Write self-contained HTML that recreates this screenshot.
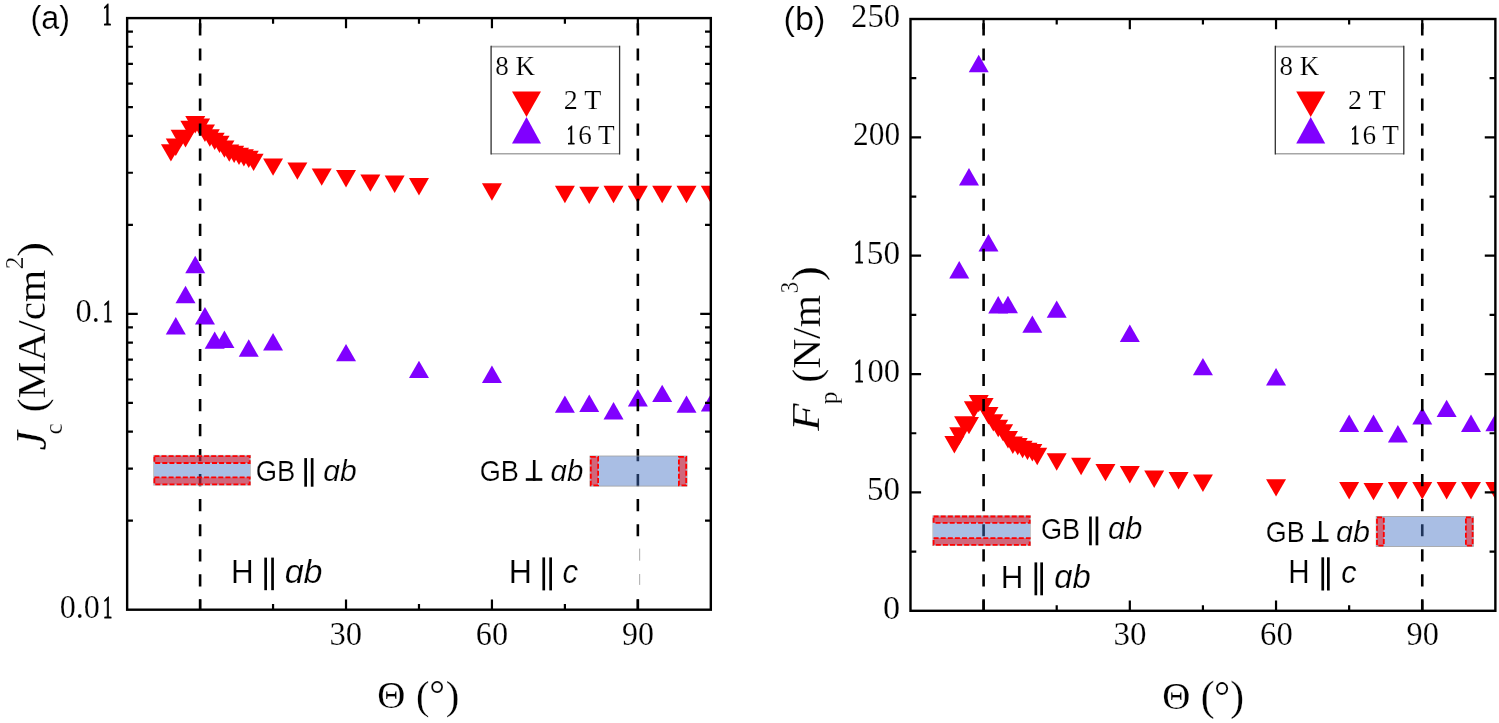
<!DOCTYPE html>
<html><head><meta charset="utf-8"><title>Jc and Fp vs angle</title>
<style>html,body{margin:0;padding:0;background:#fff;overflow:hidden}svg{display:block;filter:blur(0.5px)}</style></head>
<body><svg width="1499" height="723" viewBox="0 0 1499 723">
<rect width="1499" height="723" fill="#fff"/>
<defs>
<clipPath id="ca"><rect x="127.14" y="18.10" width="583.68" height="591.60"/></clipPath>
<clipPath id="cb"><rect x="910.49" y="19.00" width="584.88" height="591.80"/></clipPath>
</defs>
<g clip-path="url(#ca)">
<path d="M160.92 144.20H180.92L170.92 161.60Z" fill="#ff0000"/>
<path d="M165.78 138.50H185.78L175.78 155.90Z" fill="#ff0000"/>
<path d="M170.64 129.80H190.64L180.64 147.20Z" fill="#ff0000"/>
<path d="M175.51 130.00H195.51L185.51 147.40Z" fill="#ff0000"/>
<path d="M180.37 120.70H200.37L190.37 138.10Z" fill="#ff0000"/>
<path d="M185.24 116.00H205.24L195.24 133.40Z" fill="#ff0000"/>
<path d="M190.10 118.60H210.10L200.10 136.00Z" fill="#ff0000"/>
<path d="M194.96 124.60H214.96L204.96 142.00Z" fill="#ff0000"/>
<path d="M199.83 129.30H219.83L209.83 146.70Z" fill="#ff0000"/>
<path d="M204.69 132.70H224.69L214.69 150.10Z" fill="#ff0000"/>
<path d="M209.56 135.70H229.56L219.56 153.10Z" fill="#ff0000"/>
<path d="M214.42 140.40H234.42L224.42 157.80Z" fill="#ff0000"/>
<path d="M219.28 144.40H239.28L229.28 161.80Z" fill="#ff0000"/>
<path d="M224.15 145.70H244.15L234.15 163.10Z" fill="#ff0000"/>
<path d="M229.01 147.70H249.01L239.01 165.10Z" fill="#ff0000"/>
<path d="M233.88 149.20H253.88L243.88 166.60Z" fill="#ff0000"/>
<path d="M238.74 150.70H258.74L248.74 168.10Z" fill="#ff0000"/>
<path d="M243.60 153.70H263.60L253.60 171.10Z" fill="#ff0000"/>
<path d="M263.06 158.40H283.06L273.06 175.80Z" fill="#ff0000"/>
<path d="M287.38 162.40H307.38L297.38 179.80Z" fill="#ff0000"/>
<path d="M311.70 168.40H331.70L321.70 185.80Z" fill="#ff0000"/>
<path d="M336.02 170.00H356.02L346.02 187.40Z" fill="#ff0000"/>
<path d="M360.34 174.40H380.34L370.34 191.80Z" fill="#ff0000"/>
<path d="M384.66 175.60H404.66L394.66 193.00Z" fill="#ff0000"/>
<path d="M408.98 178.00H428.98L418.98 195.40Z" fill="#ff0000"/>
<path d="M481.94 183.30H501.94L491.94 200.70Z" fill="#ff0000"/>
<path d="M554.90 185.80H574.90L564.90 203.20Z" fill="#ff0000"/>
<path d="M579.22 186.70H599.22L589.22 204.10Z" fill="#ff0000"/>
<path d="M603.54 185.80H623.54L613.54 203.20Z" fill="#ff0000"/>
<path d="M627.86 185.80H647.86L637.86 203.20Z" fill="#ff0000"/>
<path d="M652.18 185.80H672.18L662.18 203.20Z" fill="#ff0000"/>
<path d="M676.50 185.80H696.50L686.50 203.20Z" fill="#ff0000"/>
<path d="M700.82 185.80H720.82L710.82 203.20Z" fill="#ff0000"/>
<path d="M175.78 317.00L185.78 334.40H165.78Z" fill="#8000ff"/>
<path d="M185.51 285.80L195.51 303.20H175.51Z" fill="#8000ff"/>
<path d="M195.24 255.80L205.24 273.20H185.24Z" fill="#8000ff"/>
<path d="M204.96 307.00L214.96 324.40H194.96Z" fill="#8000ff"/>
<path d="M214.69 331.40L224.69 348.80H204.69Z" fill="#8000ff"/>
<path d="M224.42 330.60L234.42 348.00H214.42Z" fill="#8000ff"/>
<path d="M248.74 339.30L258.74 356.70H238.74Z" fill="#8000ff"/>
<path d="M273.06 333.00L283.06 350.40H263.06Z" fill="#8000ff"/>
<path d="M346.02 343.90L356.02 361.30H336.02Z" fill="#8000ff"/>
<path d="M418.98 360.70L428.98 378.10H408.98Z" fill="#8000ff"/>
<path d="M491.94 365.50L501.94 382.90H481.94Z" fill="#8000ff"/>
<path d="M564.90 395.40L574.90 412.80H554.90Z" fill="#8000ff"/>
<path d="M589.22 394.60L599.22 412.00H579.22Z" fill="#8000ff"/>
<path d="M613.54 402.00L623.54 419.40H603.54Z" fill="#8000ff"/>
<path d="M637.86 389.20L647.86 406.60H627.86Z" fill="#8000ff"/>
<path d="M662.18 384.70L672.18 402.10H652.18Z" fill="#8000ff"/>
<path d="M686.50 395.40L696.50 412.80H676.50Z" fill="#8000ff"/>
<path d="M710.82 394.00L720.82 411.40H700.82Z" fill="#8000ff"/>
</g>
<g clip-path="url(#cb)">
<path d="M944.36 436.00H964.36L954.36 453.40Z" fill="#ff0000"/>
<path d="M949.23 427.30H969.23L959.23 444.70Z" fill="#ff0000"/>
<path d="M954.10 416.30H974.10L964.10 433.70Z" fill="#ff0000"/>
<path d="M958.98 416.94H978.98L968.98 434.34Z" fill="#ff0000"/>
<path d="M963.85 401.20H983.85L973.85 418.60Z" fill="#ff0000"/>
<path d="M968.73 394.90H988.73L978.73 412.30Z" fill="#ff0000"/>
<path d="M973.60 398.00H993.60L983.60 415.40Z" fill="#ff0000"/>
<path d="M978.47 407.10H998.47L988.47 424.50Z" fill="#ff0000"/>
<path d="M983.35 414.20H1003.35L993.35 431.60Z" fill="#ff0000"/>
<path d="M988.22 419.80H1008.22L998.22 437.20Z" fill="#ff0000"/>
<path d="M993.10 424.20H1013.10L1003.10 441.60Z" fill="#ff0000"/>
<path d="M997.97 431.00H1017.97L1007.97 448.40Z" fill="#ff0000"/>
<path d="M1002.84 436.57H1022.84L1012.84 453.97Z" fill="#ff0000"/>
<path d="M1007.72 437.90H1027.72L1017.72 455.30Z" fill="#ff0000"/>
<path d="M1012.59 440.77H1032.59L1022.59 458.17Z" fill="#ff0000"/>
<path d="M1017.47 442.64H1037.47L1027.47 460.04Z" fill="#ff0000"/>
<path d="M1022.34 444.10H1042.34L1032.34 461.50Z" fill="#ff0000"/>
<path d="M1027.21 447.80H1047.21L1037.21 465.20Z" fill="#ff0000"/>
<path d="M1046.71 453.30H1066.71L1056.71 470.70Z" fill="#ff0000"/>
<path d="M1071.08 457.80H1091.08L1081.08 475.20Z" fill="#ff0000"/>
<path d="M1095.45 463.90H1115.45L1105.45 481.30Z" fill="#ff0000"/>
<path d="M1119.82 466.00H1139.82L1129.82 483.40Z" fill="#ff0000"/>
<path d="M1144.19 470.60H1164.19L1154.19 488.00Z" fill="#ff0000"/>
<path d="M1168.56 472.10H1188.56L1178.56 489.50Z" fill="#ff0000"/>
<path d="M1192.93 474.60H1212.93L1202.93 492.00Z" fill="#ff0000"/>
<path d="M1266.04 479.20H1286.04L1276.04 496.60Z" fill="#ff0000"/>
<path d="M1339.15 482.00H1359.15L1349.15 499.40Z" fill="#ff0000"/>
<path d="M1363.52 482.90H1383.52L1373.52 500.30Z" fill="#ff0000"/>
<path d="M1387.89 482.00H1407.89L1397.89 499.40Z" fill="#ff0000"/>
<path d="M1412.26 482.00H1432.26L1422.26 499.40Z" fill="#ff0000"/>
<path d="M1436.63 482.00H1456.63L1446.63 499.40Z" fill="#ff0000"/>
<path d="M1461.00 482.00H1481.00L1471.00 499.40Z" fill="#ff0000"/>
<path d="M1485.37 482.00H1505.37L1495.37 499.40Z" fill="#ff0000"/>
<path d="M959.23 261.00L969.23 278.40H949.23Z" fill="#8000ff"/>
<path d="M968.98 168.00L978.98 185.40H958.98Z" fill="#8000ff"/>
<path d="M978.73 54.80L988.73 72.20H968.73Z" fill="#8000ff"/>
<path d="M988.47 234.00L998.47 251.40H978.47Z" fill="#8000ff"/>
<path d="M998.22 296.10L1008.22 313.50H988.22Z" fill="#8000ff"/>
<path d="M1007.97 295.80L1017.97 313.20H997.97Z" fill="#8000ff"/>
<path d="M1032.34 315.40L1042.34 332.80H1022.34Z" fill="#8000ff"/>
<path d="M1056.71 300.40L1066.71 317.80H1046.71Z" fill="#8000ff"/>
<path d="M1129.82 324.60L1139.82 342.00H1119.82Z" fill="#8000ff"/>
<path d="M1202.93 357.90L1212.93 375.30H1192.93Z" fill="#8000ff"/>
<path d="M1276.04 368.00L1286.04 385.40H1266.04Z" fill="#8000ff"/>
<path d="M1349.15 414.60L1359.15 432.00H1339.15Z" fill="#8000ff"/>
<path d="M1373.52 414.60L1383.52 432.00H1363.52Z" fill="#8000ff"/>
<path d="M1397.89 425.00L1407.89 442.40H1387.89Z" fill="#8000ff"/>
<path d="M1422.26 407.20L1432.26 424.60H1412.26Z" fill="#8000ff"/>
<path d="M1446.63 399.70L1456.63 417.10H1436.63Z" fill="#8000ff"/>
<path d="M1471.00 414.60L1481.00 432.00H1461.00Z" fill="#8000ff"/>
<path d="M1495.37 413.80L1505.37 431.20H1485.37Z" fill="#8000ff"/>
</g>
<path d="M200.10 23.36V35.56M200.10 48.40V60.60M200.10 73.44V85.64M200.10 98.48V110.68M200.10 123.52V135.72M200.10 148.56V160.76M200.10 173.60V185.80M200.10 198.64V210.84M200.10 223.68V235.88M200.10 248.72V260.92M200.10 273.76V285.96M200.10 298.80V311.00M200.10 323.84V336.04M200.10 348.88V361.08M200.10 373.92V386.12M200.10 398.96V411.16M200.10 424.00V436.20M200.10 449.04V461.24M200.10 474.08V486.28M200.10 499.12V511.32M200.10 524.16V536.36M200.10 549.20V561.40M200.10 574.24V586.44M200.10 599.28V609.70" stroke="#000" stroke-width="2.6" fill="none"/>
<path d="M637.86 23.36V35.56M637.86 48.40V60.60M637.86 73.44V85.64M637.86 98.48V110.68M637.86 123.52V135.72M637.86 148.56V160.76M637.86 173.60V185.80M637.86 198.64V210.84M637.86 223.68V235.88M637.86 248.72V260.92M637.86 273.76V285.96M637.86 298.80V311.00M637.86 323.84V336.04M637.86 348.88V361.08M637.86 373.92V386.12M637.86 398.96V411.16M637.86 424.00V436.20M637.86 449.04V461.24M637.86 474.08V486.28M637.86 499.12V511.32M637.86 524.16V536.36M637.86 599.28V609.70" stroke="#000" stroke-width="2.6" fill="none"/>
<path d="M639.66 548.6V560.7M639.66 574V584.9" stroke="#aaa" stroke-width="1" fill="none"/>
<path d="M983.60 23.36V35.56M983.60 48.40V60.60M983.60 73.44V85.64M983.60 98.48V110.68M983.60 123.52V135.72M983.60 148.56V160.76M983.60 173.60V185.80M983.60 198.64V210.84M983.60 223.68V235.88M983.60 248.72V260.92M983.60 273.76V285.96M983.60 298.80V311.00M983.60 323.84V336.04M983.60 348.88V361.08M983.60 373.92V386.12M983.60 398.96V411.16M983.60 424.00V436.20M983.60 449.04V461.24M983.60 474.08V486.28M983.60 499.12V511.32M983.60 524.16V536.36M983.60 549.20V561.40M983.60 574.24V586.44M983.60 599.28V610.80" stroke="#000" stroke-width="2.6" fill="none"/>
<path d="M1422.26 23.36V35.56M1422.26 48.40V60.60M1422.26 73.44V85.64M1422.26 98.48V110.68M1422.26 123.52V135.72M1422.26 148.56V160.76M1422.26 173.60V185.80M1422.26 198.64V210.84M1422.26 223.68V235.88M1422.26 248.72V260.92M1422.26 273.76V285.96M1422.26 298.80V311.00M1422.26 323.84V336.04M1422.26 348.88V361.08M1422.26 373.92V386.12M1422.26 398.96V411.16M1422.26 424.00V436.20M1422.26 449.04V461.24M1422.26 474.08V486.28M1422.26 499.12V511.32M1422.26 524.16V536.36M1422.26 549.20V561.40M1422.26 574.24V586.44M1422.26 599.28V610.80" stroke="#000" stroke-width="2.6" fill="none"/>
<rect x="153.60" y="455.30" width="96.90" height="29.90" fill="rgba(68,114,196,0.46)" stroke="#c0c0c0" stroke-width="0.8"/>
<rect x="154.40" y="456.10" width="95.30" height="6.90" fill="rgba(255,0,0,0.46)" stroke="#ff0000" stroke-width="1.8" stroke-dasharray="5 2.1"/>
<rect x="154.40" y="477.40" width="95.30" height="7.00" fill="rgba(255,0,0,0.46)" stroke="#ff0000" stroke-width="1.8" stroke-dasharray="5 2.1"/>
<rect x="590.00" y="456.00" width="97.00" height="30.10" fill="rgba(68,114,196,0.46)" stroke="#a0a0a0" stroke-width="0.8"/>
<rect x="590.80" y="456.80" width="7.30" height="28.50" fill="rgba(255,0,0,0.46)" stroke="#ff0000" stroke-width="1.8" stroke-dasharray="5 2.1"/>
<rect x="678.90" y="456.80" width="7.30" height="28.50" fill="rgba(255,0,0,0.46)" stroke="#ff0000" stroke-width="1.8" stroke-dasharray="5 2.1"/>
<rect x="932.80" y="515.70" width="97.70" height="29.90" fill="rgba(68,114,196,0.46)" stroke="#c0c0c0" stroke-width="0.8"/>
<rect x="933.60" y="516.50" width="96.10" height="6.40" fill="rgba(255,0,0,0.46)" stroke="#ff0000" stroke-width="1.8" stroke-dasharray="5 2.1"/>
<rect x="933.60" y="538.10" width="96.10" height="6.70" fill="rgba(255,0,0,0.46)" stroke="#ff0000" stroke-width="1.8" stroke-dasharray="5 2.1"/>
<rect x="1376.20" y="516.60" width="97.20" height="29.90" fill="rgba(68,114,196,0.46)" stroke="#a0a0a0" stroke-width="0.8"/>
<rect x="1377.00" y="517.40" width="6.80" height="28.30" fill="rgba(255,0,0,0.46)" stroke="#ff0000" stroke-width="1.8" stroke-dasharray="5 2.1"/>
<rect x="1465.90" y="517.40" width="6.70" height="28.30" fill="rgba(255,0,0,0.46)" stroke="#ff0000" stroke-width="1.8" stroke-dasharray="5 2.1"/>
<rect x="127.14" y="18.10" width="583.68" height="591.60" fill="none" stroke="#000" stroke-width="2.4"/>
<path d="M200.10 609.70v-10.2M200.10 18.10v10.2M273.06 609.70v-5.6M273.06 18.10v5.6M346.02 609.70v-10.2M346.02 18.10v10.2M418.98 609.70v-5.6M418.98 18.10v5.6M491.94 609.70v-10.2M491.94 18.10v10.2M564.90 609.70v-5.6M564.90 18.10v5.6M637.86 609.70v-10.2M637.86 18.10v10.2" stroke="#000" stroke-width="2.2" fill="none"/>
<rect x="910.49" y="19.00" width="584.88" height="591.80" fill="none" stroke="#000" stroke-width="2.4"/>
<path d="M983.60 610.80v-10.2M983.60 19.00v10.2M1056.71 610.80v-5.6M1056.71 19.00v5.6M1129.82 610.80v-10.2M1129.82 19.00v10.2M1202.93 610.80v-5.6M1202.93 19.00v5.6M1276.04 610.80v-10.2M1276.04 19.00v10.2M1349.15 610.80v-5.6M1349.15 19.00v5.6M1422.26 610.80v-10.2M1422.26 19.00v10.2" stroke="#000" stroke-width="2.2" fill="none"/>
<path d="M127.14 520.66h5.8M710.82 520.66h-5.8M127.14 468.57h5.8M710.82 468.57h-5.8M127.14 431.61h5.8M710.82 431.61h-5.8M127.14 402.94h5.8M710.82 402.94h-5.8M127.14 379.52h5.8M710.82 379.52h-5.8M127.14 359.72h5.8M710.82 359.72h-5.8M127.14 342.57h5.8M710.82 342.57h-5.8M127.14 327.44h5.8M710.82 327.44h-5.8M127.14 313.90h10.6M710.82 313.90h-10.6M127.14 224.86h5.8M710.82 224.86h-5.8M127.14 172.77h5.8M710.82 172.77h-5.8M127.14 135.81h5.8M710.82 135.81h-5.8M127.14 107.14h5.8M710.82 107.14h-5.8M127.14 83.72h5.8M710.82 83.72h-5.8M127.14 63.92h5.8M710.82 63.92h-5.8M127.14 46.77h5.8M710.82 46.77h-5.8M127.14 31.64h5.8M710.82 31.64h-5.8" stroke="#000" stroke-width="2.2" fill="none"/>
<path d="M910.49 551.62h5.8M1495.37 551.62h-5.8M910.49 492.44h10.6M1495.37 492.44h-10.6M910.49 433.26h5.8M1495.37 433.26h-5.8M910.49 374.08h10.6M1495.37 374.08h-10.6M910.49 314.90h5.8M1495.37 314.90h-5.8M910.49 255.72h10.6M1495.37 255.72h-10.6M910.49 196.54h5.8M1495.37 196.54h-5.8M910.49 137.36h10.6M1495.37 137.36h-10.6M910.49 78.18h5.8M1495.37 78.18h-5.8" stroke="#000" stroke-width="2.2" fill="none"/>
<rect x="491.10" y="46.6" width="128.7" height="107.2" fill="#fff"/>
<path d="M491.10 46.6H619.80M491.10 153.8H619.80" stroke="#a6a6a6" stroke-width="1.6" fill="none"/>
<path d="M491.10 45.8V154.6M619.60 45.8V154.6" stroke="#303030" stroke-width="1.3" fill="none"/>
<path d="M512.00 91.6H541.00L526.50 117.1Z" fill="#ff0000"/>
<path d="M526.50 117.1L541.00 143.5H512.00Z" fill="#8000ff"/>
<rect x="1275.30" y="46.6" width="128.7" height="107.2" fill="#fff"/>
<path d="M1275.30 46.6H1404.00M1275.30 153.8H1404.00" stroke="#a6a6a6" stroke-width="1.6" fill="none"/>
<path d="M1275.30 45.8V154.6M1403.80 45.8V154.6" stroke="#303030" stroke-width="1.3" fill="none"/>
<path d="M1296.20 91.6H1325.20L1310.70 117.1Z" fill="#ff0000"/>
<path d="M1310.70 117.1L1325.20 143.5H1296.20Z" fill="#8000ff"/>
<rect x="304.30" y="458.10" width="2.7" height="28.60" fill="#000"/>
<rect x="310.80" y="458.10" width="2.7" height="28.60" fill="#000"/>
<rect x="532.90" y="460.00" width="2.6" height="20.80" fill="#000"/>
<rect x="525.80" y="478.20" width="16.50" height="2.6" fill="#000"/>
<rect x="1089.10" y="516.50" width="2.7" height="28.80" fill="#000"/>
<rect x="1095.60" y="516.50" width="2.7" height="28.80" fill="#000"/>
<rect x="1318.90" y="521.00" width="2.6" height="20.80" fill="#000"/>
<rect x="1312.00" y="539.20" width="16.50" height="2.6" fill="#000"/>
<rect x="264.30" y="557.60" width="2.7" height="32.60" fill="#000"/>
<rect x="271.20" y="557.60" width="2.7" height="32.60" fill="#000"/>
<rect x="542.40" y="557.40" width="2.7" height="33.00" fill="#000"/>
<rect x="549.30" y="557.40" width="2.7" height="33.00" fill="#000"/>
<rect x="1034.50" y="562.40" width="2.7" height="32.90" fill="#000"/>
<rect x="1040.30" y="562.40" width="2.7" height="32.90" fill="#000"/>
<rect x="1321.40" y="557.30" width="2.7" height="33.20" fill="#000"/>
<rect x="1327.00" y="557.30" width="2.7" height="33.20" fill="#000"/>
<text transform="translate(495.22 75.06) scale(0.2704 0.2676)" font-family="Liberation Serif" font-size="100" fill="#000" stroke="#fff" stroke-width="0.74">8 K</text>
<text transform="translate(563.68 109.33) scale(0.2806 0.2687)" font-family="Liberation Serif" font-size="100" fill="#000" stroke="#fff" stroke-width="0.73">2 T</text>
<text transform="translate(566.66 143.70) scale(0.1714 0.2742)" font-family="Liberation Serif" font-size="100" fill="#000" stroke="#000" stroke-width="2.92">1</text>
<text transform="translate(578.21 143.56) scale(0.2721 0.2721)" font-family="Liberation Serif" font-size="100" fill="#000" stroke="#fff" stroke-width="0.74">6 T</text>
<text transform="translate(1279.42 75.06) scale(0.2704 0.2676)" font-family="Liberation Serif" font-size="100" fill="#000" stroke="#fff" stroke-width="0.74">8 K</text>
<text transform="translate(1347.88 109.33) scale(0.2806 0.2687)" font-family="Liberation Serif" font-size="100" fill="#000" stroke="#fff" stroke-width="0.73">2 T</text>
<text transform="translate(1350.86 143.70) scale(0.1714 0.2742)" font-family="Liberation Serif" font-size="100" fill="#000" stroke="#000" stroke-width="2.92">1</text>
<text transform="translate(1362.41 143.56) scale(0.2721 0.2721)" font-family="Liberation Serif" font-size="100" fill="#000" stroke="#fff" stroke-width="0.74">6 T</text>
<text transform="translate(102.71 25.00) scale(0.1771 0.3167)" font-family="Liberation Serif" font-size="100" fill="#000" stroke="#000" stroke-width="3.39">1</text>
<text transform="translate(75.60 321.83) scale(0.3250 0.3353)" font-family="Liberation Serif" font-size="100" fill="#000" stroke="#fff" stroke-width="0.61">0.</text>
<text transform="translate(102.88 321.60) scale(0.1914 0.3258)" font-family="Liberation Serif" font-size="100" fill="#000" stroke="#000" stroke-width="3.13">1</text>
<text transform="translate(59.71 617.73) scale(0.3222 0.3353)" font-family="Liberation Serif" font-size="100" fill="#000" stroke="#fff" stroke-width="0.61">0.0</text>
<text transform="translate(102.93 617.50) scale(0.1857 0.3258)" font-family="Liberation Serif" font-size="100" fill="#000" stroke="#000" stroke-width="3.23">1</text>
<text transform="translate(329.52 645.22) scale(0.3264 0.3397)" font-family="Liberation Serif" font-size="100" fill="#000" stroke="#fff" stroke-width="0.60">30</text>
<text transform="translate(1113.50 645.22) scale(0.3308 0.3397)" font-family="Liberation Serif" font-size="100" fill="#000" stroke="#fff" stroke-width="0.60">30</text>
<text transform="translate(475.78 645.22) scale(0.3228 0.3397)" font-family="Liberation Serif" font-size="100" fill="#000" stroke="#fff" stroke-width="0.60">60</text>
<text transform="translate(1260.06 645.22) scale(0.3272 0.3397)" font-family="Liberation Serif" font-size="100" fill="#000" stroke="#fff" stroke-width="0.60">60</text>
<text transform="translate(622.03 645.22) scale(0.3194 0.3397)" font-family="Liberation Serif" font-size="100" fill="#000" stroke="#fff" stroke-width="0.61">90</text>
<text transform="translate(1406.62 645.22) scale(0.3237 0.3397)" font-family="Liberation Serif" font-size="100" fill="#000" stroke="#fff" stroke-width="0.60">90</text>
<text transform="translate(883.03 618.73) scale(0.3429 0.3368)" font-family="Liberation Serif" font-size="100" fill="#000" stroke="#fff" stroke-width="0.59">0</text>
<text transform="translate(867.12 500.37) scale(0.3300 0.3368)" font-family="Liberation Serif" font-size="100" fill="#000" stroke="#fff" stroke-width="0.60">50</text>
<text transform="translate(854.03 381.78) scale(0.1971 0.3303)" font-family="Liberation Serif" font-size="100" fill="#000" stroke="#000" stroke-width="3.04">1</text>
<text transform="translate(867.50 382.01) scale(0.3261 0.3368)" font-family="Liberation Serif" font-size="100" fill="#000" stroke="#fff" stroke-width="0.60">00</text>
<text transform="translate(854.03 263.42) scale(0.1971 0.3303)" font-family="Liberation Serif" font-size="100" fill="#000" stroke="#000" stroke-width="3.04">1</text>
<text transform="translate(866.80 263.65) scale(0.3333 0.3368)" font-family="Liberation Serif" font-size="100" fill="#000" stroke="#fff" stroke-width="0.60">50</text>
<text transform="translate(853.05 145.29) scale(0.3134 0.3368)" font-family="Liberation Serif" font-size="100" fill="#000" stroke="#fff" stroke-width="0.62">200</text>
<text transform="translate(851.09 26.93) scale(0.3268 0.3368)" font-family="Liberation Serif" font-size="100" fill="#000" stroke="#fff" stroke-width="0.60">250</text>
<text transform="translate(377.24 708.12) scale(0.3891 0.3776)" font-family="Liberation Serif" font-size="100" fill="#000" stroke="#fff" stroke-width="0.52">Θ</text>
<text transform="translate(416.09 708.83) scale(0.4033 0.4033)" font-family="Liberation Serif" font-size="100" fill="#000" stroke="#fff" stroke-width="0.50">(</text>
<text transform="translate(429.23 707.62) scale(0.3933 0.4033)" font-family="Liberation Serif" font-size="100" fill="#000" stroke="#fff" stroke-width="0.50">°</text>
<text transform="translate(445.78 709.14) scale(0.4078 0.4078)" font-family="Liberation Serif" font-size="100" fill="#000" stroke="#fff" stroke-width="0.49">)</text>
<text transform="translate(1162.24 709.22) scale(0.3891 0.3836)" font-family="Liberation Serif" font-size="100" fill="#000" stroke="#fff" stroke-width="0.52">Θ</text>
<text transform="translate(1200.74 709.67) scale(0.4156 0.4156)" font-family="Liberation Serif" font-size="100" fill="#000" stroke="#fff" stroke-width="0.48">(</text>
<text transform="translate(1213.88 709.60) scale(0.4033 0.4167)" font-family="Liberation Serif" font-size="100" fill="#000" stroke="#fff" stroke-width="0.49">°</text>
<text transform="translate(1230.25 709.67) scale(0.4156 0.4156)" font-family="Liberation Serif" font-size="100" fill="#000" stroke="#fff" stroke-width="0.48">)</text>
<text transform="rotate(-90) translate(-450.44 46.26) scale(0.4424 0.4424)" font-family="Liberation Serif" font-style="italic" font-size="100" fill="#000" stroke="#fff" stroke-width="0.45">J</text>
<text transform="rotate(-90) translate(-434.51 62.04) scale(0.2514 0.2604)" font-family="Liberation Serif" font-size="100" fill="#000" stroke="#fff" stroke-width="0.78">c</text>
<text transform="rotate(-90) translate(-412.15 45.18) scale(0.4136 0.4011)" font-family="Liberation Serif" font-size="100" fill="#000" stroke="#fff" stroke-width="0.49">(MA/cm</text>
<text transform="rotate(-90) translate(-269.21 22.55) scale(0.2537 0.2478)" font-family="Liberation Serif" font-size="100" fill="#000" stroke="#fff" stroke-width="0.80">2</text>
<text transform="rotate(-90) translate(-257.05 44.90) scale(0.4500 0.4000)" font-family="Liberation Serif" font-size="100" fill="#000" stroke="#fff" stroke-width="0.47">)</text>
<text transform="rotate(-90) translate(-430.80 819.39) scale(0.4468 0.4106)" font-family="Liberation Serif" font-style="italic" font-size="100" fill="#000" stroke="#fff" stroke-width="0.47">F</text>
<text transform="rotate(-90) translate(-404.20 836.69) scale(0.2523 0.2529)" font-family="Liberation Serif" font-size="100" fill="#000" stroke="#fff" stroke-width="0.79">p</text>
<text transform="rotate(-90) translate(-382.66 820.41) scale(0.4150 0.4089)" font-family="Liberation Serif" font-size="100" fill="#000" stroke="#fff" stroke-width="0.49">(N/m</text>
<text transform="rotate(-90) translate(-293.23 797.54) scale(0.2268 0.2582)" font-family="Liberation Serif" font-size="100" fill="#000" stroke="#fff" stroke-width="0.83">3</text>
<text transform="rotate(-90) translate(-281.35 820.73) scale(0.4500 0.4222)" font-family="Liberation Serif" font-size="100" fill="#000" stroke="#fff" stroke-width="0.46">)</text>
<text transform="translate(30.46 29.43) scale(0.3236 0.3319)" font-family="Liberation Sans" font-size="100" fill="#000" stroke="#fff" stroke-width="0.61">(a)</text>
<text transform="translate(783.55 30.42) scale(0.3418 0.3277)" font-family="Liberation Sans" font-size="100" fill="#000" stroke="#fff" stroke-width="0.60">(b)</text>
<text transform="translate(255.63 480.51) scale(0.2739 0.2887)" font-family="Liberation Sans" font-size="100" fill="#000" stroke="#fff" stroke-width="0.71">GB</text>
<text transform="translate(323.20 480.50) scale(0.3000 0.3027)" font-family="Liberation Sans" font-style="italic" font-size="100" fill="#000" stroke="#fff" stroke-width="0.66">ɑb</text>
<text transform="translate(479.64 480.51) scale(0.2716 0.2930)" font-family="Liberation Sans" font-size="100" fill="#000" stroke="#fff" stroke-width="0.71">GB</text>
<text transform="translate(550.62 480.50) scale(0.2933 0.3027)" font-family="Liberation Sans" font-style="italic" font-size="100" fill="#000" stroke="#fff" stroke-width="0.67">ɑb</text>
<text transform="translate(1040.94 538.81) scale(0.2716 0.2859)" font-family="Liberation Sans" font-size="100" fill="#000" stroke="#fff" stroke-width="0.72">GB</text>
<text transform="translate(1108.08 538.79) scale(0.3076 0.3054)" font-family="Liberation Sans" font-style="italic" font-size="100" fill="#000" stroke="#fff" stroke-width="0.65">ɑb</text>
<text transform="translate(1265.86 541.51) scale(0.2687 0.2930)" font-family="Liberation Sans" font-size="100" fill="#000" stroke="#fff" stroke-width="0.71">GB</text>
<text transform="translate(1335.99 541.50) scale(0.3048 0.3027)" font-family="Liberation Sans" font-style="italic" font-size="100" fill="#000" stroke="#fff" stroke-width="0.66">ɑb</text>
<text transform="translate(230.89 583.20) scale(0.3143 0.3246)" font-family="Liberation Sans" font-size="100" fill="#000" stroke="#fff" stroke-width="0.63">H</text>
<text transform="translate(284.68 583.17) scale(0.3400 0.3284)" font-family="Liberation Sans" font-style="italic" font-size="100" fill="#000" stroke="#fff" stroke-width="0.60">ɑb</text>
<text transform="translate(508.63 583.20) scale(0.3214 0.3304)" font-family="Liberation Sans" font-size="100" fill="#000" stroke="#fff" stroke-width="0.61">H</text>
<text transform="translate(562.56 583.17) scale(0.3130 0.3327)" font-family="Liberation Sans" font-style="italic" font-size="100" fill="#000" stroke="#fff" stroke-width="0.62">c</text>
<text transform="translate(1000.79 587.70) scale(0.3143 0.3203)" font-family="Liberation Sans" font-size="100" fill="#000" stroke="#fff" stroke-width="0.63">H</text>
<text transform="translate(1054.32 587.68) scale(0.3276 0.3243)" font-family="Liberation Sans" font-style="italic" font-size="100" fill="#000" stroke="#fff" stroke-width="0.61">ɑb</text>
<text transform="translate(1288.33 583.00) scale(0.2964 0.3246)" font-family="Liberation Sans" font-size="100" fill="#000" stroke="#fff" stroke-width="0.64">H</text>
<text transform="translate(1341.28 582.99) scale(0.3065 0.3073)" font-family="Liberation Sans" font-style="italic" font-size="100" fill="#000" stroke="#fff" stroke-width="0.65">c</text>
</svg></body></html>
